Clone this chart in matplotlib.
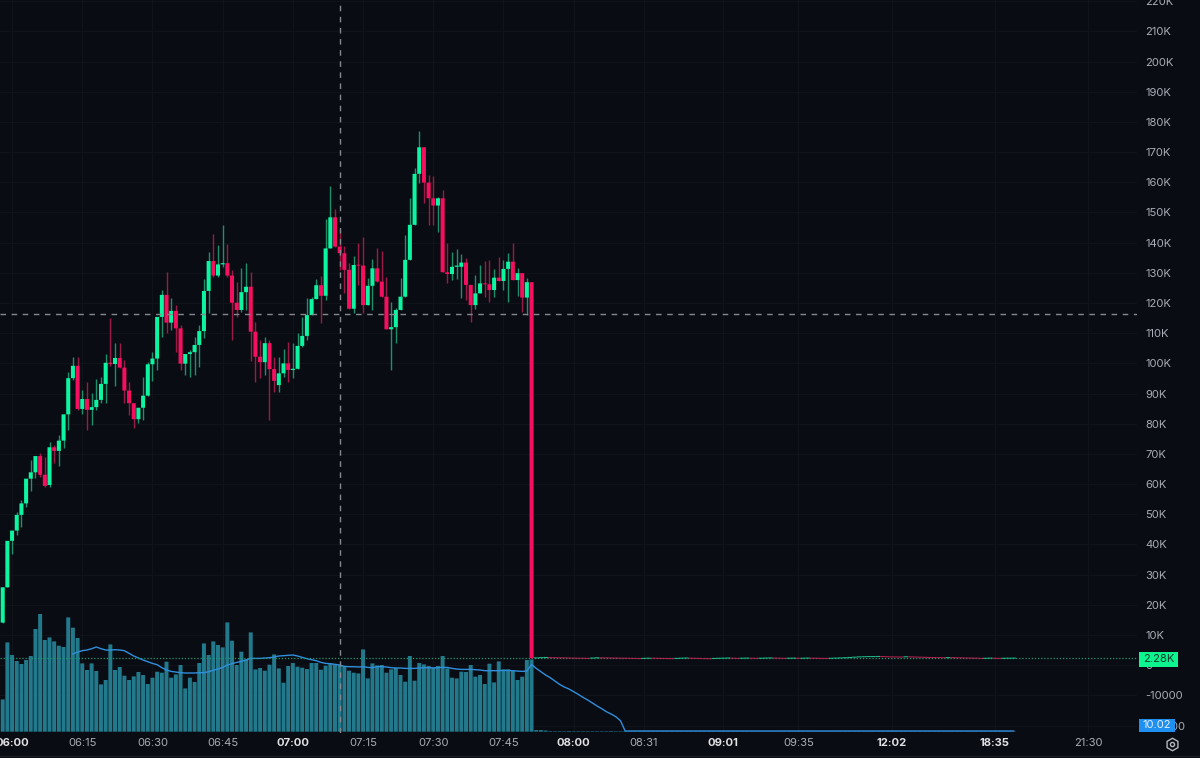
import numpy as np
import matplotlib
matplotlib.use("Agg")
import matplotlib.pyplot as plt
from matplotlib.lines import Line2D
from matplotlib.patches import Rectangle

plt.rcParams['font.family'] = ['Inter', 'DejaVu Sans']

# candles, values in K
opens = [14.1, 25.8, 41.2, 44.6, 49.8, 53.6, 61.8, 63.9, 69.3, 63.1,
         59.7, 72.2, 71.0, 74.4, 83.1, 95.1, 99.2, 84.9, 88.2, 84.6,
         85.5, 87.9, 93.2, 100.2, 99.8, 101.8, 98.6, 91.0, 86.8, 81.5,
         85.3, 89.3, 99.7, 101.6, 115.4, 122.7, 113.5, 117.4, 111.6, 99.9,
         103.1, 103.7, 106.1, 110.7, 124.0, 133.9, 129.1, 132.8, 133.2, 129.1,
         120.1, 117.7, 123.6, 125.4, 110.5, 102.2, 100.4, 106.7, 98.1, 92.8,
         96.7, 100.0, 97.8, 98.2, 105.8, 109.1, 116.0, 121.3, 125.9, 122.4,
         138.1, 148.4, 138.7, 136.5, 131.0, 118.1, 132.6, 132.4, 119.3, 125.7,
         131.5, 127.1, 122.1, 111.3, 112.0, 117.7, 122.1, 134.3, 145.9, 162.8,
         171.6, 159.9, 154.7, 152.3, 154.7, 130.2, 129.6, 132.0, 132.0, 133.4,
         126.0, 119.3, 123.2, 126.5, 126.2, 124.3, 128.4, 127.3, 131.3, 133.7,
         127.6, 129.9, 121.8, 126.9]
closes = [25.8, 41.2, 44.6, 49.8, 53.6, 61.8, 63.9, 69.3, 63.1, 59.4,
          72.2, 71.0, 74.4, 83.1, 95.1, 99.2, 84.9, 88.2, 84.6, 85.5,
          87.9, 93.2, 100.2, 99.8, 101.8, 98.6, 91.0, 86.8, 81.5, 85.3,
          89.3, 99.7, 101.6, 115.4, 122.7, 113.5, 117.4, 111.6, 99.9, 103.1,
          103.7, 106.1, 110.7, 124.0, 133.9, 129.1, 132.8, 133.2, 129.1, 120.1,
          117.7, 123.6, 125.4, 110.5, 102.2, 100.4, 106.7, 98.1, 94.2, 96.7,
          100.0, 97.8, 98.2, 105.8, 109.1, 116.0, 121.3, 125.9, 122.4, 138.1,
          148.4, 138.7, 136.5, 131.0, 118.1, 132.6, 132.4, 119.3, 125.7, 131.5,
          127.1, 122.1, 111.3, 112.0, 117.7, 122.1, 134.3, 145.9, 162.8, 171.6,
          159.9, 154.7, 152.3, 154.7, 130.2, 129.6, 132.0, 132.4, 133.4, 126.0,
          119.3, 123.2, 126.5, 126.2, 124.3, 128.4, 127.3, 131.3, 133.7, 127.6,
          129.9, 121.8, 126.9, 2.28]
highs = [25.8, 41.2, 44.6, 50.9, 54.7, 61.8, 68.0, 69.3, 70.3, 69.1,
         73.9, 73.0, 76.3, 83.1, 97.3, 102.0, 102.2, 91.2, 93.9, 90.3,
         94.8, 95.6, 103.0, 114.9, 106.9, 106.8, 101.1, 93.9, 86.8, 85.3,
         95.6, 100.4, 103.9, 115.4, 124.3, 130.2, 121.8, 119.4, 112.7, 103.1,
         104.4, 108.6, 112.7, 127.9, 136.8, 142.8, 139.2, 145.9, 139.5, 131.0,
         127.1, 131.5, 133.4, 130.4, 113.8, 107.8, 108.6, 107.8, 102.1, 102.2,
         104.8, 107.2, 106.9, 110.1, 115.4, 121.7, 121.9, 128.0, 129.0, 147.7,
         158.8, 151.2, 144.2, 138.9, 133.3, 135.6, 139.8, 141.8, 128.3, 134.5,
         138.2, 137.3, 128.7, 120.4, 118.4, 128.3, 142.5, 154.7, 164.6, 177.1,
         171.6, 162.4, 162.2, 155.2, 157.5, 139.8, 137.0, 137.9, 136.2, 134.8,
         126.0, 129.3, 132.6, 133.9, 134.3, 131.3, 135.4, 134.3, 136.7, 139.8,
         131.6, 129.9, 128.4, 126.9]
lows = [14.1, 25.8, 36.8, 43.1, 45.9, 52.4, 57.7, 62.0, 62.4, 59.0,
        59.0, 67.0, 66.0, 72.0, 77.9, 94.5, 84.6, 83.2, 77.9, 79.6,
        84.6, 86.9, 87.0, 99.1, 92.5, 98.5, 86.9, 82.9, 78.6, 80.4,
        81.2, 89.3, 94.3, 97.8, 108.8, 110.1, 111.1, 103.9, 97.8, 96.2,
        95.6, 96.2, 98.7, 108.3, 116.7, 128.6, 128.6, 131.8, 128.6, 107.8,
        115.5, 117.0, 117.7, 100.9, 93.9, 95.2, 96.2, 81.2, 90.5, 90.5,
        95.5, 93.9, 95.2, 98.2, 105.4, 107.8, 116.0, 121.3, 113.3, 121.0,
        138.1, 138.7, 131.0, 123.4, 118.0, 116.8, 126.0, 116.8, 119.3, 117.7,
        127.1, 122.1, 111.3, 97.8, 106.9, 117.7, 122.1, 134.3, 145.9, 159.7,
        153.2, 145.9, 145.9, 143.6, 130.2, 126.7, 127.6, 127.9, 121.8, 121.0,
        113.6, 117.9, 123.2, 122.1, 120.4, 121.9, 127.3, 124.3, 120.4, 127.6,
        122.4, 116.9, 116.0, 2.28]

# flat run after the drop
after_closes = [2.40, 2.50, 2.55, 2.50, 2.46, 2.42, 2.40, 2.36, 2.34, 2.30,
                2.28, 2.25, 2.35, 2.45, 2.42, 2.40, 2.36, 2.34, 2.30, 2.28,
                2.26, 2.22, 2.20, 2.25, 2.30, 2.28, 2.25, 2.22, 2.20, 2.18,
                2.25, 2.32, 2.36, 2.30, 2.26, 2.22, 2.18, 2.15, 2.22, 2.28,
                2.32, 2.36, 2.30, 2.25, 2.30, 2.34, 2.30, 2.25, 2.30, 2.34,
                2.38, 2.34, 2.30, 2.26, 2.30, 2.32, 2.28, 2.30, 2.34, 2.30,
                2.28, 2.24, 2.22, 2.28, 2.34, 2.40, 2.46, 2.55, 2.65, 2.75,
                2.80, 2.85, 2.85, 2.88, 2.85, 2.80, 2.75, 2.72, 2.70, 2.78,
                2.75, 2.70, 2.65, 2.60, 2.55, 2.52, 2.50, 2.46, 2.50, 2.48,
                2.44, 2.40, 2.36, 2.34, 2.30, 2.25, 2.28, 2.32, 2.28, 2.25,
                2.28, 2.30, 2.32]

# volume and its moving average, same arbitrary unit
volume = [32.3, 89.3, 76.7, 70.7, 67.7, 71.7, 75.7, 102.7, 117.7, 91.7,
          94.3, 90.3, 86.0, 84.7, 114.3, 104.0, 93.7, 68.3, 61.7, 68.3,
          60.7, 47.3, 51.7, 87.3, 61.7, 64.7, 56.0, 51.7, 55.3, 59.7,
          56.7, 47.7, 54.0, 60.0, 59.0, 70.0, 54.0, 57.3, 66.7, 43.3,
          54.0, 49.7, 68.7, 88.3, 76.7, 90.3, 86.7, 84.3, 109.3, 91.0,
          66.7, 80.0, 72.3, 99.3, 62.3, 63.7, 61.0, 67.0, 77.3, 63.3,
          49.0, 65.7, 68.7, 65.0, 64.0, 62.7, 68.7, 68.7, 62.0, 66.0,
          68.3, 67.3, 66.7, 65.7, 61.0, 59.0, 58.3, 82.3, 53.3, 68.3,
          66.3, 66.7, 59.0, 62.3, 63.7, 56.7, 50.0, 75.7, 51.0, 68.7,
          67.3, 65.7, 64.3, 65.7, 75.7, 63.3, 54.0, 53.3, 60.0, 59.7,
          66.7, 55.0, 56.7, 47.7, 68.0, 49.3, 70.3, 62.3, 62.3, 61.0,
          51.7, 55.0, 71.7, 72.3]
after_volume = [1.6, 1.6, 1.2, 0.6, 0.5, 0.5, 0.5, 0.6, 0.5, 0.5,
                0.5, 0.5, 0.5, 0.5, 0.5, 0.5, 0.6, 0.5, 0.5, 0.5,
                0.4, 0.4, 0.4, 0.4, 0.4, 0.4, 0.4, 0.4, 0.4, 0.4,
                0.4, 0.4, 0.4, 0.4, 0.4, 0.4, 0.4, 0.4, 0.4, 0.4,
                0.4, 0.4, 0.4, 0.4, 0.4, 0.4, 0.4, 0.4, 0.4, 0.4,
                0.4, 0.4, 0.4, 0.4, 0.4, 0.4, 0.4, 0.4, 0.4, 0.4,
                0.4, 0.4, 0.4, 0.4, 0.4, 0.4, 0.4, 0.4, 0.4, 0.4,
                0.4, 0.4, 0.4, 0.4, 0.4, 0.4, 0.4, 0.4, 0.4, 0.4,
                0.4, 0.4, 0.4, 0.4, 0.4, 0.4, 0.4, 0.4, 0.4, 0.4,
                0.4, 0.4, 0.4, 0.4, 0.4, 0.4, 0.4, 0.4, 0.4, 0.4,
                0.4, 0.4, 0.4]
ma_start = 15
vol_ma = [77.7, 79.7, 81.0, 81.7, 83.0, 84.7, 83.0, 81.7, 81.7, 82.0,
          81.7, 81.0, 78.3, 75.7, 73.7, 71.7, 70.0, 68.3, 67.0, 64.0,
          61.7, 60.3, 59.7, 59.0, 58.7, 58.7, 58.7, 59.0, 59.0, 60.0,
          61.3, 62.7, 64.3, 66.7, 68.0, 69.3, 70.3, 71.7, 73.3, 73.3,
          73.3, 73.7, 74.0, 74.7, 75.7, 76.0, 76.3, 76.7, 75.7, 74.3,
          73.0, 72.0, 71.0, 69.3, 68.3, 68.0, 67.3, 66.7, 65.3, 65.0,
          65.0, 64.7, 65.0, 64.3, 64.0, 65.0, 65.0, 64.7, 64.0, 63.7,
          63.7, 63.3, 63.3, 63.3, 63.7, 64.0, 64.0, 63.7, 64.0, 64.3,
          64.3, 63.3, 62.7, 62.3, 62.3, 62.3, 62.0, 61.7, 61.0, 61.0,
          61.0, 61.0, 61.3, 61.3, 61.0, 60.7, 60.3, 60.7, 67.3,
          63.3, 60.0, 56.7, 54.0, 50.7, 47.3, 44.7, 42.7, 40.0, 37.3,
          34.3, 31.7, 28.7, 25.7, 23.0, 20.0, 17.7, 15.0, 11.0, 0.7,
          0.7, 0.7, 0.7, 0.7, 0.7, 0.7, 0.7, 0.7, 0.7, 0.7,
          0.7, 0.7, 0.7, 0.7, 0.7, 0.7, 0.7, 0.7, 0.7, 0.7,
          0.7, 0.7, 0.7, 0.7, 0.7, 0.7, 0.7, 0.7, 0.7, 0.7,
          0.7, 0.7, 0.7, 0.7, 0.7, 0.7, 0.7, 0.7, 0.7, 0.7,
          0.7, 0.7, 0.7, 0.7, 0.7, 0.7, 0.7, 0.7, 0.7, 0.7,
          0.7, 0.7, 0.7, 0.7, 0.7, 0.7, 0.7, 0.7, 0.7, 0.7,
          0.7, 0.7, 0.7, 0.7, 0.7, 0.7, 0.7, 0.7, 0.7, 0.7,
          0.7, 0.7, 0.7, 0.7, 0.7, 0.7, 0.7, 0.7, 0.7, 0.7,
          0.7, 0.7, 0.7]

y_ticks = [-20, -10, 0, 10, 20, 30, 40, 50, 60, 70, 80, 90, 100, 110, 120,
           130, 140, 150, 160, 170, 180, 190, 200, 210, 220]
y_labels = ["-20000", "-10000", "0", "10K", "20K", "30K", "40K", "50K", "60K",
            "70K", "80K", "90K", "100K", "110K", "120K", "130K", "140K",
            "150K", "160K", "170K", "180K", "190K", "200K", "210K", "220K"]
x_ticks = [2, 17, 32, 47, 62, 77, 92, 107, 122, 137, 154, 170, 190, 212, 232]
x_labels = ["06:00", "06:15", "06:30", "06:45", "07:00", "07:15", "07:30", "07:45",
            "08:00", "08:31", "09:01", "09:35", "12:02", "18:35", "21:30"]
bold_labels = ["06:00", "07:00", "08:00", "09:01", "12:02", "18:35"]

last_price = 2.28
cross_price = 116.4
cross_bar = 72

BG = "#0a0c13"
GREEN = "#0df5a0"
RED = "#f5105f"
GREEN_WICK = "#1c8f6b"
RED_WICK = "#9c1a47"
VOL = "#23798c"
MA = "#2f8fdc"
TEXT = "#a9adb5"
XLIM = (-0.577, 242.37)
YLIM = (-22.47, 220.4)

fig = plt.figure(figsize=(12, 7.58), dpi=100, facecolor=BG)
pos = [0, 25 / 758, 1137 / 1200, 733 / 758]

# three stacked axes: grid and labels at the back, then volume, then candles
ax_back = fig.add_axes(pos, facecolor=BG)
ax_vol = fig.add_axes(pos, facecolor="none")
ax = fig.add_axes(pos, facecolor="none")

n = len(opens)
xs = np.arange(n)
after_xs = np.arange(n, n + len(after_closes))

ax_vol.bar(xs, volume, width=0.85, color=VOL, linewidth=0, snap=False)
ax_vol.bar(after_xs, after_volume, width=0.85, color=VOL, linewidth=0, snap=False)
ax_vol.plot(ma_start + np.arange(len(vol_ma)), vol_ma, color=MA, lw=1.0, snap=False)
ax_vol.set_xlim(XLIM)
ax_vol.set_ylim(-1.3, 731.7)
ax_vol.axis("off")

for x, o, h, l, c in zip(xs, opens, highs, lows, closes):
    up = c >= o
    ax.vlines(x, l, h, color=GREEN_WICK if up else RED_WICK, lw=1.0, zorder=3)
    ax.bar(x, max(abs(c - o), 0.3), bottom=min(o, c), width=0.86, color=GREEN if up else RED,
           linewidth=0, snap=False, zorder=4)

prev = closes[-1]
for x, c in zip(after_xs, after_closes):
    col = "#1fb886" if c >= prev else "#b8214f"
    ax.bar(x, 0.35, bottom=c - 0.17, width=1.0, color=col, linewidth=0, snap=False, zorder=4)
    prev = c

ax.axhline(last_price, color="#1f9a70", lw=0.9, ls=(0, (1, 1.5)), zorder=2)
ax.axhline(cross_price, color="#85888f", lw=1.0, ls=(0, (4, 4)), zorder=5)
ax.axvline(cross_bar, color="#85888f", lw=1.0, ls=(0, (4, 4)), zorder=5)
ax.set_xlim(XLIM)
ax.set_ylim(YLIM)
ax.axis("off")

ax_back.set_xlim(XLIM)
ax_back.set_ylim(YLIM)
ax_back.grid(True, color="#11131a", lw=0.8)
ax_back.set_axisbelow(True)
for s in ax_back.spines.values():
    s.set_visible(False)

ax_back.yaxis.tick_right()
ax_back.set_yticks(y_ticks)
ax_back.set_yticklabels(y_labels, ha="left")
ax_back.set_xticks(x_ticks)
ax_back.set_xticklabels(x_labels)
ax_back.tick_params(axis="y", length=0, pad=5.8, labelsize=8.1, labelcolor=TEXT)
ax_back.tick_params(axis="x", length=0, pad=3.8, labelsize=8.1, labelcolor=TEXT)
for lab in ax_back.get_xticklabels():
    if lab.get_text() in bold_labels:
        lab.set_fontweight("bold")
        lab.set_color("#dfe1e5")

# price tags on the right
fig.add_artist(Rectangle((1139 / 1200, 1 - 667 / 758), 39 / 1200, 15 / 758,
                         transform=fig.transFigure, color="#0df58f", lw=0, zorder=5))
fig.text(1158.5 / 1200, 1 - 659.5 / 758, "2.28K", color="#0a3a2a", fontsize=8.1,
         ha="center", va="center", zorder=6)
fig.add_artist(Rectangle((1139 / 1200, 1 - 732 / 758), 36 / 1200, 13 / 758,
                         transform=fig.transFigure, color="#1f8ff0", lw=0, zorder=5))
fig.text(1157 / 1200, 1 - 725.5 / 758, "10.02", color="#e6f0fa", fontsize=8.1,
         ha="center", va="center", zorder=6)

# settings icon and bottom edge
fig.add_artist(Line2D([1172 / 1200], [1 - 744 / 758], marker="h", ms=9, mfc="none", mec="#b4b7bd",
                      mew=1.0, transform=fig.transFigure))
fig.add_artist(Line2D([1172 / 1200], [1 - 744 / 758], marker="o", ms=3, mfc="none", mec="#b4b7bd",
                      mew=1.0, transform=fig.transFigure))
fig.add_artist(Line2D([0, 1], [1 - 755.5 / 758, 1 - 755.5 / 758], color="#1a1c24", lw=1.0,
                      transform=fig.transFigure))

fig.savefig("out.png", dpi=100, facecolor=BG)
